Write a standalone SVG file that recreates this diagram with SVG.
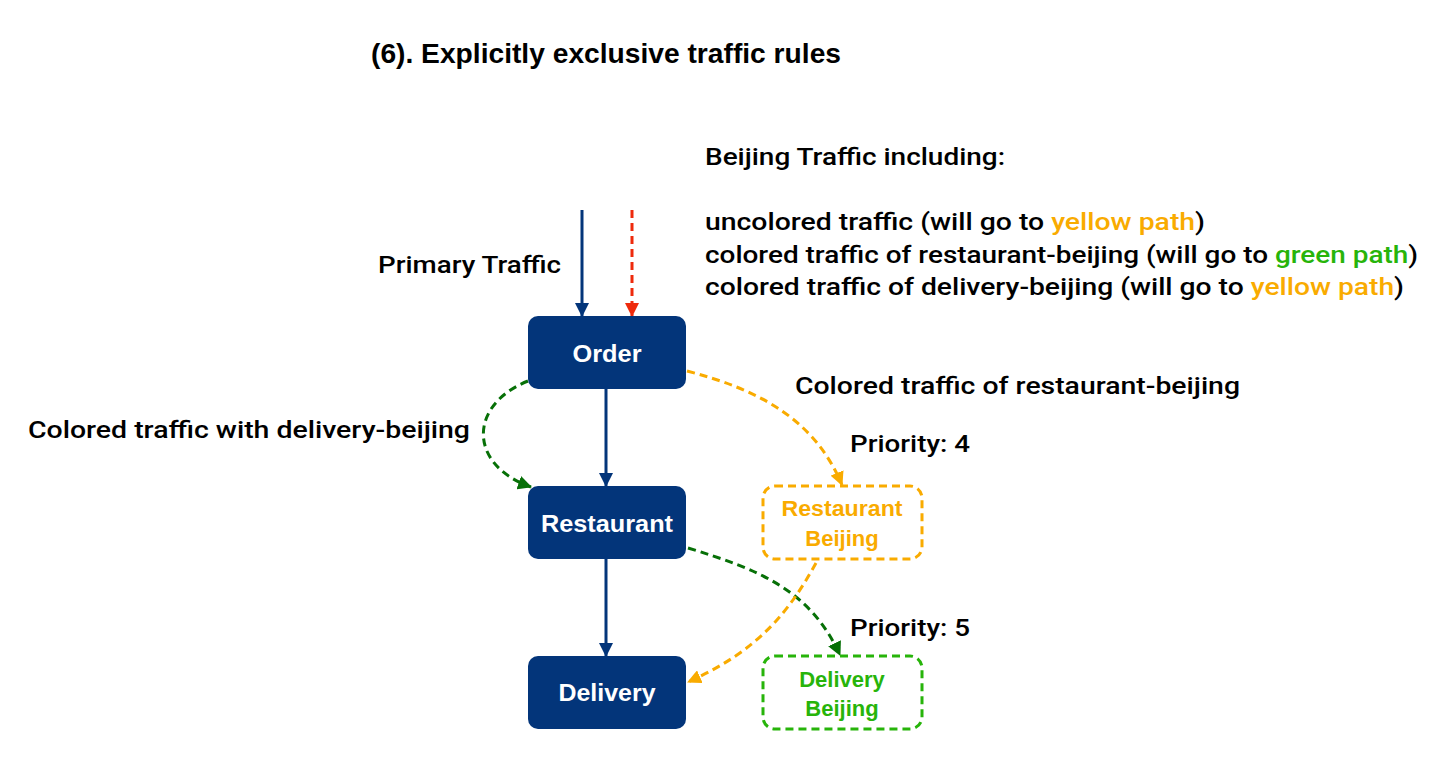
<svg xmlns="http://www.w3.org/2000/svg" width="1454" height="774" viewBox="0 0 1454 774">
<style>
text{font-family:"Liberation Sans",Arial,sans-serif;}
.lbl{font-family:Roboto,"Liberation Sans",Arial,sans-serif;font-size:24px;font-weight:500;fill:#000;}
.node rect.solid{fill:#03357a;}
.ntx{font-size:24px;font-weight:bold;fill:#fff;text-anchor:middle;}
.btx{font-size:22px;font-weight:bold;text-anchor:middle;}
.y{fill:#f9ab00;}
.g{fill:#27b40a;}
.dash{fill:none;stroke-width:3;stroke-dasharray:8,5;}
</style>
<defs>
<marker id="aNavy" markerWidth="14" markerHeight="14" refX="13" refY="7" orient="auto" markerUnits="userSpaceOnUse"><path d="M0,0 L14,7 L0,14 z" fill="#03357a"/></marker>
<marker id="aRed" markerWidth="14" markerHeight="14" refX="13" refY="7" orient="auto" markerUnits="userSpaceOnUse"><path d="M0,0 L14,7 L0,14 z" fill="#ee2a0c"/></marker>
<marker id="aOr" markerWidth="14" markerHeight="14" refX="13" refY="7" orient="auto" markerUnits="userSpaceOnUse"><path d="M0,0 L14,7 L0,14 z" fill="#f9ab00"/></marker>
<marker id="aGr" markerWidth="14" markerHeight="14" refX="13" refY="7" orient="auto" markerUnits="userSpaceOnUse"><path d="M0,0 L14,7 L0,14 z" fill="#077007"/></marker>
</defs>
<text x="371" y="63" textLength="470" lengthAdjust="spacingAndGlyphs" style="font-size:28px;font-weight:bold">(6). Explicitly exclusive traffic rules</text>
<g id="legend">
<text x="705" y="165" class="lbl" textLength="300" lengthAdjust="spacingAndGlyphs">Beijing Traffic including:</text>
<text x="705" y="230" class="lbl" textLength="500" lengthAdjust="spacingAndGlyphs">uncolored traffic (will go to <tspan class="y">yellow path</tspan>)</text>
<text x="705" y="263" class="lbl" textLength="713" lengthAdjust="spacingAndGlyphs">colored traffic of restaurant-beijing (will go to <tspan class="g">green path</tspan>)</text>
<text x="705" y="295" class="lbl" textLength="699" lengthAdjust="spacingAndGlyphs">colored traffic of delivery-beijing (will go to <tspan class="y">yellow path</tspan>)</text>
</g>
<g id="connectors">
<line x1="582" y1="210" x2="582" y2="316" stroke="#03357a" stroke-width="3" marker-end="url(#aNavy)"/>
<line x1="632" y1="210" x2="632" y2="316" class="dash" stroke="#ee2a0c" marker-end="url(#aRed)"/>
<line x1="606" y1="389" x2="606" y2="486" stroke="#03357a" stroke-width="3" marker-end="url(#aNavy)"/>
<line x1="606" y1="559" x2="606" y2="656" stroke="#03357a" stroke-width="3" marker-end="url(#aNavy)"/>
<path d="M528,381 C468,405 468,465 531,487" class="dash" stroke="#077007" marker-end="url(#aGr)"/>
<path d="M687,371 C760,390 815,420 842,485" class="dash" stroke="#f9ab00" marker-end="url(#aOr)"/>
<path d="M688,548 C760,570 810,590 840,655" class="dash" stroke="#077007" marker-end="url(#aGr)"/>
<path d="M816,563 C790,610 760,650 688,682" class="dash" stroke="#f9ab00" marker-end="url(#aOr)"/>
</g>
<g id="labels">
<text x="378" y="273" class="lbl" textLength="183" lengthAdjust="spacingAndGlyphs">Primary Traffic</text>
<text x="795" y="394" class="lbl" textLength="445" lengthAdjust="spacingAndGlyphs">Colored traffic of restaurant-beijing</text>
<text x="28" y="438" class="lbl" textLength="442" lengthAdjust="spacingAndGlyphs">Colored traffic with delivery-beijing</text>
<text x="850" y="452" class="lbl" textLength="120" lengthAdjust="spacingAndGlyphs">Priority: 4</text>
<text x="850" y="636" class="lbl" textLength="120" lengthAdjust="spacingAndGlyphs">Priority: 5</text>
</g>
<g id="order" class="node"><rect class="solid" x="528" y="316" width="158" height="73" rx="10"/><text x="607" y="362" class="ntx" textLength="69" lengthAdjust="spacingAndGlyphs">Order</text></g>
<g id="restaurant" class="node"><rect class="solid" x="528" y="486" width="158" height="73" rx="10"/><text x="607" y="532" class="ntx" textLength="132" lengthAdjust="spacingAndGlyphs">Restaurant</text></g>
<g id="delivery" class="node"><rect class="solid" x="528" y="656" width="158" height="73" rx="10"/><text x="607" y="701" class="ntx" textLength="97" lengthAdjust="spacingAndGlyphs">Delivery</text></g>
<g id="restaurant-beijing" class="node"><rect x="763" y="486" width="159" height="73" rx="12" fill="#fff" stroke="#f9ab00" class="dash"/><text x="842" y="516" class="btx y" textLength="121" lengthAdjust="spacingAndGlyphs">Restaurant</text><text x="842" y="546" class="btx y">Beijing</text></g>
<g id="delivery-beijing" class="node"><rect x="763" y="656" width="159" height="73" rx="12" fill="#fff" stroke="#27b40a" class="dash"/><text x="842" y="687" class="btx g">Delivery</text><text x="842" y="716" class="btx g">Beijing</text></g>
</svg>
